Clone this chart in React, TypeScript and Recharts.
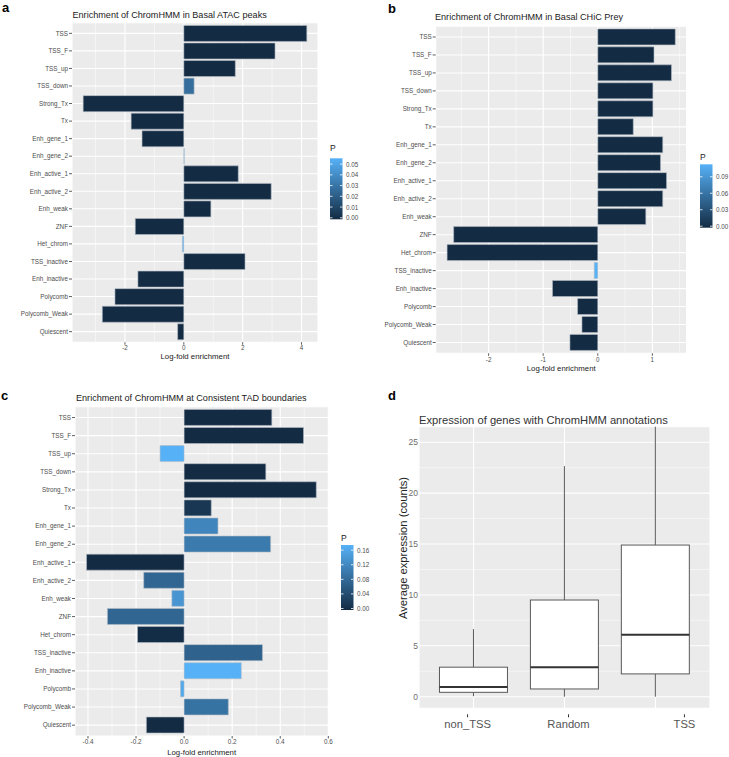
import React from 'react';
import { BarChart, Bar, XAxis, YAxis, CartesianGrid, Cell, Label } from 'recharts';

// ---------- data ----------
const STATES = [
  'TSS', 'TSS_F', 'TSS_up', 'TSS_down', 'Strong_Tx', 'Tx', 'Enh_gene_1', 'Enh_gene_2',
  'Enh_active_1', 'Enh_active_2', 'Enh_weak', 'ZNF', 'Het_chrom', 'TSS_inactive',
  'Enh_inactive', 'Polycomb', 'Polycomb_Weak', 'Quiescent',
];

const atacLogFold = [4.18, 3.1, 1.75, 0.35, -3.42, -1.79, -1.42, 0.015, 1.85, 2.97, 0.92, -1.65, -0.05, 2.08, -1.56, -2.34, -2.77, -0.21];
const atacP = [0, 0, 0, 0.027, 0, 0, 0, 0.05, 0, 0, 0, 0, 0.054, 0, 0, 0, 0, 0];

const chicLogFold = [1.42, 1.03, 1.35, 1.01, 1.01, 0.65, 1.19, 1.15, 1.26, 1.19, 0.88, -2.64, -2.76, -0.065, -0.83, -0.37, -0.29, -0.51];
const chicP = [0, 0, 0, 0, 0, 0, 0, 0, 0, 0, 0, 0, 0, 0.11, 0, 0, 0, 0];

const tadLogFold = [0.365, 0.497, -0.1, 0.34, 0.55, 0.113, 0.141, 0.36, -0.406, -0.168, -0.051, -0.319, -0.194, 0.326, 0.238, -0.015, 0.184, -0.157];
const tadP = [0, 0, 0.17, 0, 0, 0.015, 0.115, 0.1, 0, 0.075, 0.135, 0.075, 0.003, 0.07, 0.17, 0.16, 0.09, 0];

const atacTicks = [-2, 0, 2, 4];
const atacMinor = [-3, -1, 1, 3];
const chicTicks = [-2, -1, 0, 1];
const chicMinor = [-2.5, -1.5, -0.5, 0.5, 1.5];
const tadTicks = [-0.4, -0.2, 0, 0.2, 0.4, 0.6];
const tadMinor = [-0.3, -0.1, 0.1, 0.3, 0.5];

const atacPTicks = [0, 0.01, 0.02, 0.03, 0.04, 0.05];
const chicPTicks = [0, 0.03, 0.06, 0.09];
const tadPTicks = [0, 0.04, 0.08, 0.12, 0.16];

const groups = ['non_TSS', 'Random', 'TSS'];
const whiskerLow = [0.05, 0, 0];
const boxQ1 = [0.43, 0.76, 2.24];
const boxMedian = [0.96, 2.9, 6.08];
const boxQ3 = [2.9, 9.5, 14.9];
const whiskerHigh = [6.64, 22.66, 34];
const exprTicks = [0, 5, 10, 15, 20, 25];
const exprMinor = [2.5, 7.5, 12.5, 17.5, 22.5];

// ---------- helpers ----------
const LOW = [0x13, 0x2b, 0x43];
const HIGH = [0x56, 0xb1, 0xf7];
function pColor(p: number, max: number) {
  const t = Math.max(0, Math.min(1, max > 0 ? p / max : 0));
  const c = LOW.map((l, i) => Math.round(l + (HIGH[i] - l) * t));
  return `rgb(${c[0]},${c[1]},${c[2]})`;
}

function applyScale(s: any, v: number): number | null {
  if (!s) return null;
  if (typeof s === 'function') return s(v);
  if (typeof s.map === 'function') return s.map(v);
  if (typeof s.scale === 'function') return s.scale(v);
  return null;
}

const FONT = '"Liberation Sans", Arial, Helvetica, sans-serif';
const BG = '#EBEBEB';

type PanelProps = {
  values: number[];
  pvals: number[];
  left: number; top: number; width: number; height: number;
  margin: { top: number; right: number; bottom: number; left: number };
  yWidth: number;
  domain: [number, number];
  ticks: number[];
  minor: number[];
  xHeight: number;
  tickMargin: number;
  labelOffset: number;
  fmt: (v: number) => string;
  pad: number;
};

function EnrichPanel(props: PanelProps) {
  const { values, pvals } = props;
  const maxP = Math.max(...pvals);
  const data = STATES.map((s, i) => ({ state: s, lfe: values[i], p: pvals[i] }));
  const [d0, d1] = props.domain;
  return (
    <div style={{ position: 'absolute', left: props.left, top: props.top }}>
      <BarChart
        width={props.width}
        height={props.height}
        data={data}
        layout="vertical"
        margin={props.margin}
        barCategoryGap="5%"
      >
        <CartesianGrid fill={BG} stroke="#FFFFFF" strokeWidth={1.1} />
        <CartesianGrid
          horizontal={false}
          stroke="#FFFFFF"
          strokeWidth={0.5}
          verticalCoordinatesGenerator={(args: any) => {
            const s = args?.xAxis?.scale;
            const off = args?.offset || {};
            return props.minor.map((v) => {
              const r = applyScale(s, v);
              if (typeof r === 'number' && isFinite(r)) return r;
              return (off.left ?? 0) + ((v - d0) / (d1 - d0)) * (off.width ?? 0);
            });
          }}
        />
        <XAxis
          type="number"
          domain={props.domain}
          ticks={props.ticks}
          allowDataOverflow
          interval={0}
          height={props.xHeight}
          axisLine={false}
          tickSize={2.5}
          tickMargin={props.tickMargin}
          tickLine={{ stroke: '#333333', strokeWidth: 0.8 }}
          tick={{ fontSize: 6.3, fill: '#4D4D4D' }}
          tickFormatter={props.fmt}
        >
          <Label value="Log-fold enrichment" position="insideBottom" offset={props.labelOffset} fontSize={7.8} fill="#1A1A1A" />
        </XAxis>
        <YAxis
          type="category"
          dataKey="state"
          width={props.yWidth}
          interval={0}
          axisLine={false}
          tickSize={3}
          tickMargin={1}
          padding={{ top: props.pad, bottom: props.pad }}
          tickLine={{ stroke: '#333333', strokeWidth: 0.8 }}
          tick={{ fontSize: 6.3, fill: '#4D4D4D' }}
        />
        <Bar dataKey="lfe" isAnimationActive={false} stroke="#B4BCC6" strokeWidth={0.6}>
          {data.map((d, i) => (
            <Cell key={i} fill={pColor(d.p, maxP)} />
          ))}
        </Bar>
      </BarChart>
    </div>
  );
}

function BoxShape(props: any) {
  const { x, y, width, height, payload } = props;
  if (!payload) return null;
  const top = Math.min(y, y + height);
  const h = Math.abs(height);
  const k = h / (payload.q3 - payload.q1);
  const py = (v: number) => top + (payload.q3 - v) * k;
  const cx = x + width / 2;
  return (
    <g>
      <line x1={cx} x2={cx} y1={py(payload.hi)} y2={py(payload.q3)} stroke="#595959" strokeWidth={1} />
      <line x1={cx} x2={cx} y1={py(payload.q1)} y2={py(payload.lo)} stroke="#595959" strokeWidth={1} />
      <rect x={x} y={top} width={width} height={h} fill="#FFFFFF" stroke="#595959" strokeWidth={1} />
      <line x1={x} x2={x + width} y1={py(payload.med)} y2={py(payload.med)} stroke="#333333" strokeWidth={2} />
    </g>
  );
}

const TICK_SHIFT = [-6, 4, 29];
function BoxTick(props: any) {
  const { x, y, payload, index } = props;
  const dx = TICK_SHIFT[index] ?? 0;
  return (
    <g transform={`translate(${x + dx},${y})`}>
      <line x1={0} x2={0} y1={-2} y2={1} stroke="#333333" strokeWidth={1} />
      <text x={0} y={12} textAnchor="middle" fontSize={11.2} fill="#555555">{payload.value}</text>
    </g>
  );
}

function BoxPanel() {
  const data = groups.map((g, i) => ({
    group: g, lo: whiskerLow[i], q1: boxQ1[i], med: boxMedian[i], q3: boxQ3[i], hi: whiskerHigh[i],
  }));
  const yd: [number, number] = [-1.14, 26.53];
  return (
    <div style={{ position: 'absolute', left: 370, top: 380 }}>
      <BarChart
        width={359}
        height={377}
        data={data}
        margin={{ top: 46.7, right: 19, bottom: 18.7, left: 0 }}
        barCategoryGap="12.5%"
      >
        <CartesianGrid fill={BG} stroke="#FFFFFF" strokeWidth={1.1} />
        <CartesianGrid
          vertical={false}
          stroke="#FFFFFF"
          strokeWidth={0.5}
          horizontalCoordinatesGenerator={(args: any) => {
            const s = args?.yAxis?.scale;
            const off = args?.offset || {};
            return exprMinor.map((v) => {
              const r = applyScale(s, v);
              if (typeof r === 'number' && isFinite(r)) return r;
              return (off.top ?? 0) + (off.height ?? 0) - ((v - yd[0]) / (yd[1] - yd[0])) * (off.height ?? 0);
            });
          }}
        />
        <XAxis
          dataKey="group"
          type="category"
          height={30}
          padding={{ left: 9.1, right: 9.1 }}
          axisLine={false}
          tickLine={false}
          interval={0}
          tick={<BoxTick />}
        />
        <YAxis
          type="number"
          domain={yd}
          ticks={exprTicks}
          allowDataOverflow
          interval={0}
          width={49}
          axisLine={false}
          tickLine={false}
          tickSize={0}
          tickMargin={1}
          tick={{ fontSize: 8.5, fill: '#6E6E6E' }}
        />
        <Bar
          dataKey={(d: any) => [d.q1, d.q3]}
          isAnimationActive={false}
          shape={(p: any) => <BoxShape {...p} />}
        />
      </BarChart>
    </div>
  );
}

function ColorBar(props: {
  x: number; barTop: number; barH: number; max: number; ticks: number[]; id: string; titleY: number;
}) {
  const { x, barTop, barH, max, ticks, id } = props;
  const pad = 1.5;
  const w = 12.5;
  const yOf = (v: number) => barTop + barH - pad - (v / max) * (barH - 2 * pad);
  return (
    <g>
      <defs>
        <linearGradient id={id} x1="0" y1="1" x2="0" y2="0">
          <stop offset="0%" stopColor={pColor(0, 1)} />
          <stop offset="100%" stopColor={pColor(1, 1)} />
        </linearGradient>
      </defs>
      <text x={x} y={props.titleY} fontSize={8.5} fill="#1A1A1A" dominantBaseline="central">P</text>
      <rect x={x} y={barTop} width={w} height={barH} fill={`url(#${id})`} />
      {ticks.map((t) => (
        <g key={t}>
          <line x1={x} x2={x + 2.5} y1={yOf(t)} y2={yOf(t)} stroke="#FFFFFF" strokeWidth={0.8} />
          <line x1={x + w - 2.5} x2={x + w} y1={yOf(t)} y2={yOf(t)} stroke="#FFFFFF" strokeWidth={0.8} />
          <text x={x + w + 3.5} y={yOf(t)} fontSize={6.3} fill="#4D4D4D" dominantBaseline="central">
            {t.toFixed(2)}
          </text>
        </g>
      ))}
    </g>
  );
}

export default function App() {
  return (
    <div style={{ position: 'absolute', left: 0, top: 0, width: 729, height: 757, background: '#FFFFFF', fontFamily: FONT, overflow: 'hidden' }}>
      <EnrichPanel
        values={atacLogFold} pvals={atacP}
        left={0} top={0} width={370} height={372}
        margin={{ top: 22.8, right: 52, bottom: 3.8, left: 0 }}
        yWidth={72}
        domain={[-3.8, 4.56]}
        ticks={atacTicks} minor={atacMinor}
        xHeight={26} tickMargin={0.5} labelOffset={9.7}
        fmt={(v) => String(v)}
        pad={1.76}
      />
      <EnrichPanel
        values={chicLogFold} pvals={chicP}
        left={370} top={0} width={359} height={380}
        margin={{ top: 26.2, right: 42.3, bottom: 2.7, left: 0 }}
        yWidth={65.7}
        domain={[-2.969, 1.629]}
        ticks={chicTicks} minor={chicMinor}
        xHeight={24} tickMargin={1.5} labelOffset={6.3}
        fmt={(v) => String(v)}
        pad={1.8}
      />
      <EnrichPanel
        values={tadLogFold} pvals={tadP}
        left={0} top={380} width={370} height={377}
        margin={{ top: 26.7, right: 41.7, bottom: 0, left: 0 }}
        yWidth={75}
        domain={[-0.454, 0.6]}
        ticks={tadTicks} minor={tadMinor}
        xHeight={21} tickMargin={1.5} labelOffset={2.5}
        fmt={(v) => v.toFixed(1)}
        pad={1.81}
      />
      <BoxPanel />
      <svg width={729} height={757} style={{ position: 'absolute', left: 0, top: 0, pointerEvents: 'none' }} fontFamily={FONT}>
        <text x={2} y={11.7} fontSize={13} fontWeight="bold" fill="#000">a</text>
        <text x={388} y={12.7} fontSize={13} fontWeight="bold" fill="#000">b</text>
        <text x={1} y={400} fontSize={13} fontWeight="bold" fill="#000">c</text>
        <text x={388} y={400} fontSize={13} fontWeight="bold" fill="#000">d</text>

        <text x={72.5} y={17.5} fontSize={9.1} fill="#1A1A1A">Enrichment of ChromHMM in Basal ATAC peaks</text>
        <text x={435} y={20} fontSize={9.1} fill="#1A1A1A">Enrichment of ChromHMM in Basal CHiC Prey</text>
        <text x={76} y={401} fontSize={9.1} fill="#1A1A1A">Enrichment of ChromHMM at Consistent TAD boundaries</text>
        <text x={419} y={424} fontSize={11.2} fill="#333333">Expression of genes with ChromHMM annotations</text>
        <text x={403} y={548} fontSize={11.2} fill="#222222" textAnchor="middle" dominantBaseline="central" transform="rotate(-90 403 548)">
          Average expression (counts)
        </text>

        <ColorBar id="gA" x={330} barTop={158.3} barH={61} max={Math.max(...atacP)} ticks={atacPTicks} titleY={148} />
        <ColorBar id="gB" x={700} barTop={164.3} barH={63.4} max={Math.max(...chicP)} ticks={chicPTicks} titleY={156.5} />
        <ColorBar id="gC" x={341} barTop={545} barH={65} max={Math.max(...tadP)} ticks={tadPTicks} titleY={538} />
      </svg>
    </div>
  );
}
